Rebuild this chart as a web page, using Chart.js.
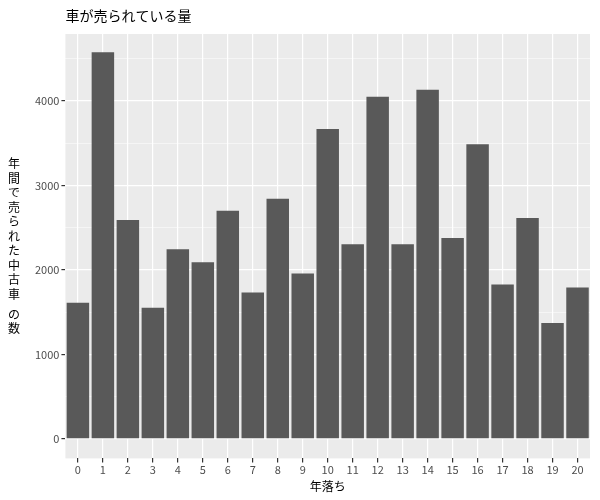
<!DOCTYPE html>
<html>
<head>
<meta charset="utf-8">
<script src="https://cdn.jsdelivr.net/npm/chart.js@4/dist/chart.umd.min.js"></script>
<style>
  html,body{margin:0;padding:0;background:#fff;}
  #wrap{width:600px;height:500px;}
</style>
</head>
<body>
<div id="wrap"><canvas id="c"></canvas></div>
<script>
// 年落ち別の販売台数
const ages = ['0','1','2','3','4','5','6','7','8','9','10','11','12','13','14','15','16','17','18','19','20'];
const counts = [1612,4573,2591,1552,2245,2090,2699,1731,2842,1958,3666,2304,4048,2304,4131,2376,3487,1827,2615,1373,1791];
const yTicks = [0,500,1000,1500,2000,2500,3000,3500,4000,4500];
const yTitle = '年間で売られた中古車 の数';
const chartTitle = '車が売られている量';
const FONT = '"Noto Sans CJK JP", "Liberation Sans", sans-serif';

const panelBg = {
  id:'panelBg',
  beforeDraw(ch){
    const {ctx, chartArea:a} = ch;
    ctx.save(); ctx.fillStyle='#EBEBEB';
    ctx.fillRect(a.left, a.top, a.right-a.left, a.bottom-a.top);
    ctx.restore();
  },
  afterDraw(ch){
    const {ctx, chartArea:a} = ch;
    ctx.save();
    ctx.fillStyle='#000';
    // タイトル
    ctx.font='14px '+FONT; ctx.textAlign='left'; ctx.textBaseline='middle';
    ctx.fillText(chartTitle, a.left, 16);
    // 縦書き風の y 軸タイトル
    ctx.font='12px '+FONT; ctx.textAlign='center';
    const chars=[...yTitle], lh=14.5;
    const total=(chars.length-1)*lh - lh*0.6;
    let y=(a.top+a.bottom)/2 - total/2;
    chars.forEach(c=>{
      if(c===' '){ y+=lh*0.4; return; }
      ctx.fillText(c, 14, y); y+=lh;
    });
    ctx.restore();
  }
};

new Chart(document.getElementById('c'), {
  type:'bar',
  data:{ labels:ages, datasets:[{ data:counts, backgroundColor:'#595959', categoryPercentage:1, barPercentage:0.9 }] },
  options:{
    responsive:true, maintainAspectRatio:false, animation:false,
    layout:{ padding:{ left:33, right:10, top:34, bottom:2 } },
    plugins:{ legend:{ display:false }, tooltip:{ enabled:false }, title:{ display:false } },
    scales:{
      x:{
        grid:{ offset:false, color:'#fff', lineWidth:1.2, drawTicks:true, tickLength:4, tickColor:'#333' },
        border:{ display:false },
        ticks:{ color:'#4D4D4D', font:{ family:FONT, size:11 }, padding:1, maxRotation:0 },
        title:{ display:true, text:'年落ち', color:'#000', font:{ family:FONT, size:12 }, padding:{ top:2 } }
      },
      y:{
        min:-230, max:4790,
        afterBuildTicks(s){ s.ticks = yTicks.map(v=>({value:v})); },
        grid:{ color:'#fff', lineWidth:c=>(c.tick && c.tick.value%1000===0)?1.2:0.5,
          tickLength:4, tickColor:c=>(c.tick && c.tick.value%1000===0)?'#333':'rgba(0,0,0,0)' },
        border:{ display:false },
        ticks:{ color:'#4D4D4D', font:{ family:FONT, size:11 }, padding:2,
          callback:v=>v%1000===0?String(v):'' }
      }
    }
  },
  plugins:[panelBg]
});
</script>
</body>
</html>
